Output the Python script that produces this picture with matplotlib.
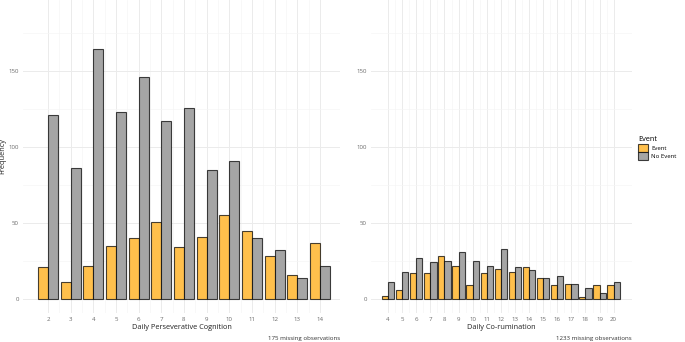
#!/usr/bin/env python3
import numpy as np
import matplotlib

matplotlib.use("Agg")
import matplotlib.pyplot as plt
from matplotlib.patches import Patch

# --- data ---
pc_levels = list(range(2, 15))
pc_event = [21, 11, 22, 35, 40, 51, 34, 41, 55, 45, 28, 16, 37]
pc_no_event = [121, 86, 165, 123, 146, 117, 126, 85, 91, 40, 32, 14, 22]

cr_levels = list(range(4, 21))
cr_event = [2, 6, 17, 17, 28, 22, 9, 17, 20, 18, 21, 14, 9, 10, 1, 9, 9]
cr_no_event = [11, 18, 27, 24, 25, 31, 25, 22, 33, 21, 19, 14, 15, 10, 7, 4, 11]

y_ticks = [0, 50, 100, 150]

EVENT_COL = "#FFC04C"
NOEVENT_COL = "#A5A5A5"
EDGE = (0, 0, 0, 0.72)
GRID = "#EBEBEB"
TXT = "#6b6b6b"

plt.rcParams["font.family"] = ["Open Sans", "DejaVu Sans"]


def draw_panel(ax, levels, ev, nev, xlim, xlabel, caption, show_ylabel):
    x = np.array(levels, dtype=float)
    w = 0.88
    ax.bar(x - w / 4, ev, width=w / 2, color=EVENT_COL, edgecolor=EDGE, linewidth=0.8, zorder=3)
    ax.bar(x + w / 4, nev, width=w / 2, color=NOEVENT_COL, edgecolor=EDGE, linewidth=0.8, zorder=3)

    ax.set_xlim(*xlim)
    ax.set_ylim(-9.3, 197)
    ax.set_xticks(levels)
    ax.set_xticks(x[:-1] + 0.5, minor=True)
    ax.set_yticks(y_ticks)
    ax.set_yticks([25, 75, 125, 175], minor=True)
    ax.grid(True, which="major", color=GRID, linewidth=0.7, zorder=0)
    ax.grid(True, which="minor", color="#F5F5F5", linewidth=0.5, zorder=0)
    ax.set_axisbelow(True)
    for s in ax.spines.values():
        s.set_visible(False)
    ax.tick_params(which="both", length=0, labelsize=4.4, colors=TXT, pad=3)
    ax.set_xlabel(xlabel, fontsize=5.3, color="#222222", labelpad=1)
    if show_ylabel:
        ax.set_ylabel("Frequency", fontsize=5.3, color="#222222")
        ax.yaxis.set_label_coords(-0.052, 0.5)
    ax.text(1.0, -0.072, caption, transform=ax.transAxes, ha="right", va="top",
            fontsize=4.4, color="#333333")


def main():
    fig = plt.figure(figsize=(6.85, 3.42), dpi=100)
    W, H = 685.0, 342.0
    bottom = 1 - 313 / H
    top = 1.0
    ax1 = fig.add_axes([23 / W, bottom, (340 - 23) / W, top - bottom])
    ax2 = fig.add_axes([371 / W, bottom, (632 - 371) / W, top - bottom])

    draw_panel(ax1, pc_levels, pc_event, pc_no_event, (0.9, 14.88),
               "Daily Perseverative Cognition", "175 missing observations", True)
    draw_panel(ax2, cr_levels, cr_event, cr_no_event, (2.79, 21.3),
               "Daily Co-rumination", "1233 missing observations", False)

    handles = [
        Patch(facecolor=EVENT_COL, edgecolor=EDGE, linewidth=0.8, label="Event"),
        Patch(facecolor=NOEVENT_COL, edgecolor=EDGE, linewidth=0.8, label="No Event"),
    ]
    leg = fig.legend(handles=handles, title="Event", loc="upper left",
                     bbox_to_anchor=(638 / W, 1 - 136 / H), frameon=False,
                     fontsize=4.3, title_fontsize=5.3, handlelength=1.6,
                     handleheight=1.6, handletextpad=0.6, labelspacing=0.15,
                     borderaxespad=0, borderpad=0)
    leg._legend_box.align = "left"

    fig.savefig("out.png", dpi=100)
    plt.close(fig)


if __name__ == "__main__":
    main()
